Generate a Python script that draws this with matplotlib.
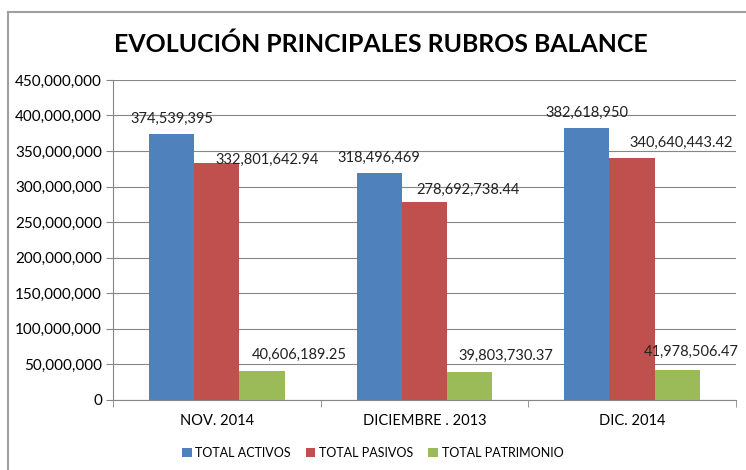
import numpy as np
import matplotlib
matplotlib.use('Agg')
import matplotlib.pyplot as plt
from matplotlib.ticker import FuncFormatter
from matplotlib.lines import Line2D

plt.rcParams['font.family'] = ['Lato', 'DejaVu Sans']

#data
categorias = ['NOV. 2014', 'DICIEMBRE . 2013', 'DIC. 2014']
activos = [374539395, 318496469, 382618950]
pasivos = [332801642.94, 278692738.44, 340640443.42]
patrimonio = [40606189.25, 39803730.37, 41978506.47]
etiq_activos = ['374,539,395', '318,496,469', '382,618,950']
etiq_pasivos = ['332,801,642.94', '278,692,738.44', '340,640,443.42']
etiq_patrimonio = ['40,606,189.25', '39,803,730.37', '41,978,506.47']
series = ['TOTAL ACTIVOS', 'TOTAL PASIVOS', 'TOTAL PATRIMONIO']
colores = ['#4F81BD', '#C0504D', '#9BBB59']

# desplazamiento de etiquetas (pixeles) como en excel
desp = [[(0, 15), (0, 16), (0, 15)],
        [(50, 3), (44, 12), (49, 15)],
        [(37, 16), (36, 16), (14, 18)]]

fig = plt.figure(figsize=(7.46, 4.70), dpi=100)
ax = fig.add_axes([0.1515, 0.149, 0.835, 0.681])

x = np.arange(len(categorias))
w = 0.218
valores = [activos, pasivos, patrimonio]
etiquetas = [etiq_activos, etiq_pasivos, etiq_patrimonio]
for i in range(3):
    pos = x + (i - 1) * w
    ax.bar(pos, valores[i], w, color=colores[i], zorder=3, label=series[i])
    for j in range(3):
        ax.annotate(etiquetas[i][j], (pos[j], valores[i][j]), xytext=(desp[i][j][0] * 0.72, desp[i][j][1] * 0.72),
                    textcoords='offset points', ha='center', va='center', fontsize=10.5,
                    color='#222222', zorder=4, annotation_clip=False)

ax.set_xlim(-0.5, 2.5)
ax.set_ylim(0, 450000000)
ax.set_yticks(np.arange(0, 450000001, 50000000))
ax.yaxis.set_major_formatter(FuncFormatter(lambda v, p: '{:,.0f}'.format(v)))
ax.set_xticks(x)
ax.set_xticklabels(categorias)
ax.set_xticks([-0.5, 0.5, 1.5, 2.5], minor=True)
ax.tick_params(axis='x', which='major', length=0, pad=10, labelsize=10.5)
ax.tick_params(axis='x', which='minor', length=5, color='#868686')
ax.tick_params(axis='y', length=5, color='#868686', labelsize=11, pad=3)
ax.grid(axis='y', color='#868686', linewidth=0.8, zorder=0)
for s in ['top', 'right']:
    ax.spines[s].set_visible(False)
ax.spines['left'].set_color('#868686')
ax.spines['bottom'].set_color('#868686')

fig.text(0.511, 0.905, 'EVOLUCIÓN PRINCIPALES RUBROS BALANCE', ha='center', va='center',
         fontsize=17.9, fontweight='bold')

ax.legend(loc='center', bbox_to_anchor=(0.417, -0.165), ncol=3, frameon=False,
          fontsize=9, handlelength=0.75, handleheight=0.75, handletextpad=0.3,
          columnspacing=1.2)

# borde del grafico
fig.add_artist(Line2D([8/746, 8/746], [0, 1 - 12/470], transform=fig.transFigure, color='#A0A0A0', linewidth=1.5))
fig.add_artist(Line2D([8/746, 1], [1 - 12/470, 1 - 12/470], transform=fig.transFigure, color='#A0A0A0', linewidth=1.5))

fig.savefig('out.png', dpi=100)
